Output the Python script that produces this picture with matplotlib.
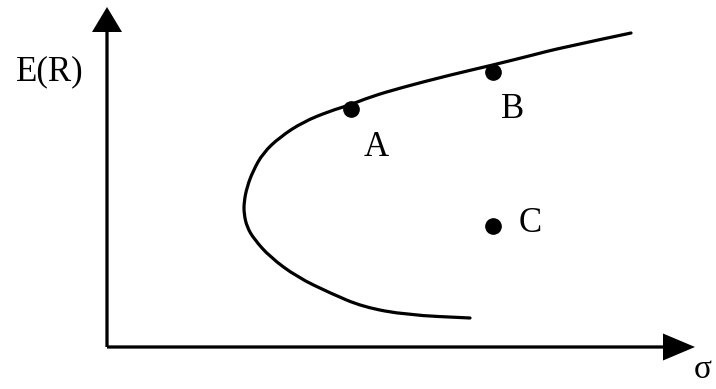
import matplotlib
matplotlib.use("Agg")
import matplotlib.pyplot as plt
from matplotlib.path import Path
from matplotlib.patches import PathPatch

plt.rcParams['font.family'] = ['Liberation Serif', 'DejaVu Serif']

# Frontier curve (sigma, E(R)), top to bottom
curve_sigma = [10.48, 9.06, 8.52, 7.72, 6.86, 5.86, 5.26, 4.86, 4.46, 3.92, 3.46,
               3.12, 2.92, 2.80, 2.74, 2.74, 2.80, 2.94, 3.26, 3.80, 4.46, 5.12, 6.00, 7.26]
curve_er = [6.28, 5.98, 5.84, 5.64, 5.44, 5.18, 5.00, 4.84, 4.72, 4.50, 4.20,
            3.88, 3.52, 3.20, 2.90, 2.66, 2.40, 2.16, 1.80, 1.40, 1.08, 0.80, 0.64, 0.58]

# Portfolios
point_names = ["A", "B", "C"]
point_sigma = [4.88, 7.72, 7.72]
point_er = [4.76, 5.50, 2.42]
label_sigma = [5.38, 8.12, 8.46]
label_er = [3.98, 4.76, 2.46]

x_label = "σ"
y_label = "E(R)"

fig = plt.figure(figsize=(7.16, 3.89), dpi=100)
ax = fig.add_axes([0, 0, 1, 1])
ax.set_xlim(-2.14, 12.18)
ax.set_ylim(-0.84, 6.94)
ax.axis('off')

# Axes with arrowheads
ax.arrow(0, 0, 0, 6.8, width=0.065, head_width=0.6, head_length=0.5,
         length_includes_head=True, color='black', lw=0)
ax.arrow(0, 0, 11.76, 0, width=0.065, head_width=0.54, head_length=0.64,
         length_includes_head=True, color='black', lw=0)

# Smooth frontier through sampled points (quadratic B-spline style path)
pts = list(zip(curve_sigma, curve_er))
verts = [pts[0]]
codes = [Path.MOVETO]
for i in range(1, len(pts) - 1):
    mid = ((pts[i][0] + pts[i + 1][0]) / 2, (pts[i][1] + pts[i + 1][1]) / 2)
    verts += [pts[i], mid]
    codes += [Path.CURVE3, Path.CURVE3]
verts.append(pts[-1])
codes.append(Path.LINETO)
ax.add_patch(PathPatch(Path(verts, codes), fill=False, lw=2.3, color='black',
                       capstyle='round'))

ax.plot(point_sigma, point_er, 'o', color='black', markersize=11)
for n, xs, ys in zip(point_names, label_sigma, label_er):
    ax.text(xs, ys, n, fontsize=25, ha='center', va='center')

ax.text(-1.14, 5.5, y_label, fontsize=25, ha='center', va='center')
ax.text(11.92, -0.46, x_label, fontsize=24, ha='center', va='center')

fig.savefig("out.png", dpi=100)
